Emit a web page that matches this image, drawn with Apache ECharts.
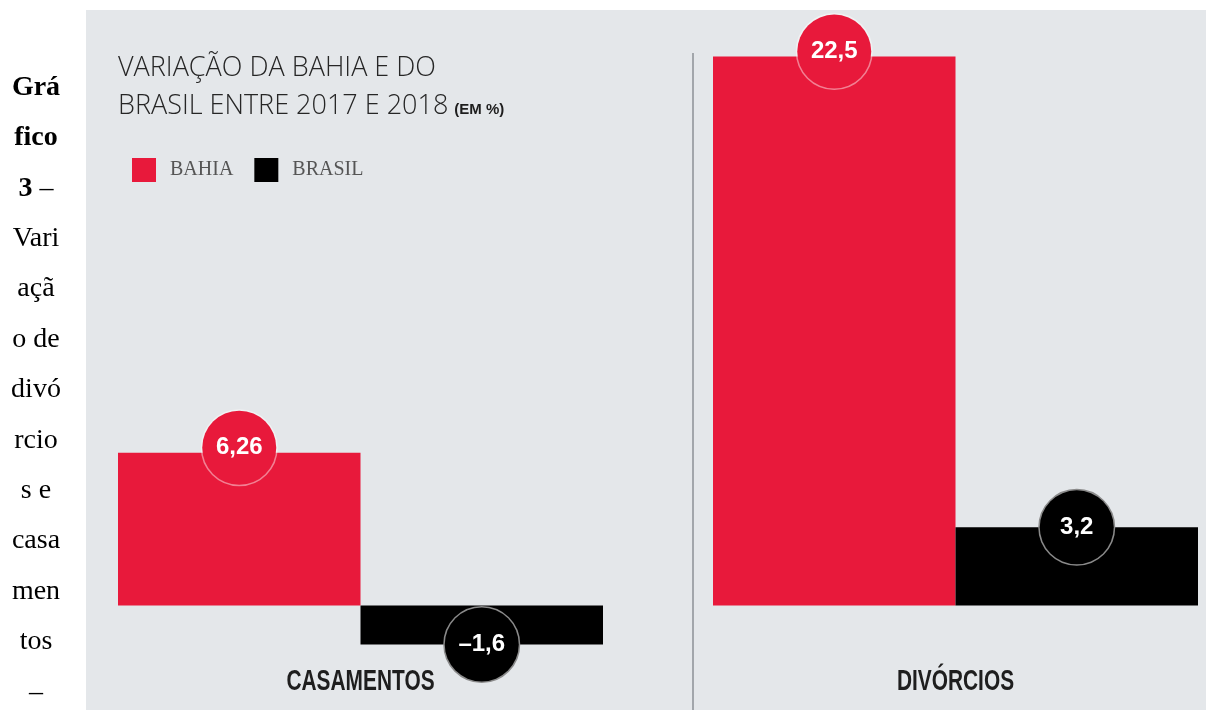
<!DOCTYPE html>
<html>
<head>
<meta charset="utf-8">
<script src="https://cdn.jsdelivr.net/npm/echarts@6/dist/echarts.min.js"></script>
<style>
  html, body { margin: 0; padding: 0; background: #ffffff; }
  #chart { width: 1206px; height: 710px; }
</style>
</head>
<body>
<div id="chart"></div>
<script>
// ---- data ----
const categories = ['CASAMENTOS', 'DIVÓRCIOS'];
const seriesNames = ['BAHIA', 'BRASIL'];
const bahia = [6.26, 22.5];
const brasil = [-1.6, 3.2];
const titleLines = ['VARIAÇÃO DA BAHIA E DO', 'BRASIL ENTRE 2017 E 2018'];
const titleUnit = '(EM %)';
const captionLines = ['{b|Grá}', '{b|fico}', '{b|3} –', 'Vari', 'açã', 'o de', 'divó', 'rcio', 's e', 'casa', 'men', 'tos', '–'];

// ---- styles ----
const RED = '#e8193b';
const BLACK = '#000000';
const PANEL = '#e4e7ea';
const SANS = '"Liberation Sans", Arial, sans-serif';
const SERIF = '"Liberation Serif", "Times New Roman", serif';

function fmt(v) { return String(v).replace('.', ',').replace('-', '–'); }

function measure(text, font) {
  const c = document.createElement('canvas').getContext('2d');
  c.font = font;
  return c.measureText(text).width;
}

const chart = echarts.init(document.getElementById('chart'), null, { renderer: 'canvas' });

const gridLefts = [118, 713];
const grids = gridLefts.map(l => ({ left: l, width: 485, top: 20, height: 683 }));
const xAxes = categories.map((c, i) => ({
  type: 'category', gridIndex: i, data: [c],
  axisLine: { show: false, onZero: false }, axisTick: { show: false }, axisLabel: { show: false }
}));
const yAxes = categories.map((c, i) => ({ type: 'value', gridIndex: i, min: -4, max: 24, show: false }));

function circleLabel(bg, border, dy) {
  return {
    show: true, formatter: p => fmt(p.value), align: 'center', verticalAlign: 'middle',
    offset: [0, dy], width: 74, height: 74, lineHeight: 74, borderRadius: 37,
    backgroundColor: bg, borderColor: border, borderWidth: 1.5,
    color: '#ffffff', fontFamily: SANS, fontWeight: 'bold', fontSize: 24
  };
}
function toData(vals) {
  return vals.map(v => ({ value: v, label: { position: v >= 0 ? ['50%', 0] : ['50%', '100%'] } }));
}

const series = [];
categories.forEach((c, i) => {
  series.push({
    name: seriesNames[0], type: 'bar', xAxisIndex: i, yAxisIndex: i,
    barGap: '0%', barCategoryGap: '0%',
    data: toData([bahia[i]]), itemStyle: { color: RED },
    label: circleLabel(RED, 'rgba(255,255,255,0.45)', -5)
  });
  series.push({
    name: seriesNames[1], type: 'bar', xAxisIndex: i, yAxisIndex: i,
    barGap: '0%', barCategoryGap: '0%',
    data: toData([brasil[i]]), itemStyle: { color: BLACK },
    label: circleLabel(BLACK, '#8a8a8a', 0)
  });
});

const titleFont = '300 27px "Open Sans"';
const line2W = measure(titleLines[1], titleFont);

function baseGraphics() {
  const g = [
    { type: 'rect', z: -10, shape: { x: 86, y: 10, width: 1120, height: 700 }, style: { fill: PANEL } },
    { type: 'line', z: -5, shape: { x1: 693, y1: 53, x2: 693, y2: 710 }, style: { stroke: '#a2a6ab', lineWidth: 2 } },
    { type: 'text', style: { text: titleLines[0], x: 118, y: 68, verticalAlign: 'middle', font: titleFont, fill: '#262626' } },
    { type: 'text', style: { text: titleLines[1], x: 118, y: 106, verticalAlign: 'middle', font: titleFont, fill: '#262626' } },
    { type: 'text', style: { text: titleUnit, x: 118 + line2W + 6, y: 110, verticalAlign: 'middle', font: 'bold 15px ' + SANS, fill: '#1e1e1e' } }
  ];
  captionLines.forEach((t, i) => {
    g.push({
      type: 'text',
      style: {
        text: t, x: 36, y: 97 + 50.4 * i - 9.5, align: 'center', verticalAlign: 'middle',
        fontFamily: SERIF, fontSize: 28, fill: '#000',
        rich: { b: { fontFamily: SERIF, fontSize: 28, fontWeight: 'bold', fill: '#000' } }
      }
    });
  });
  return g;
}

chart.setOption({
  animation: false,
  backgroundColor: '#ffffff',
  legend: {
    data: seriesNames, left: 127, top: 153, icon: 'rect', itemWidth: 24, itemHeight: 24, itemGap: 21,
    textStyle: { fontFamily: SERIF, fontSize: 20, color: '#555', padding: [0, 0, 0, 9] }
  },
  grid: grids,
  xAxis: xAxes,
  yAxis: yAxes,
  series: series,
  graphic: { elements: baseGraphics() }
});

// category names, placed at each category's position on its own x axis
const catGraphics = categories.map((c, i) => {
  const x = chart.convertToPixel({ xAxisIndex: i }, c);
  return {
    type: 'text', x: x, y: 682, scaleX: 0.72, scaleY: 1,
    style: { text: c, x: 0, y: 0, align: 'center', verticalAlign: 'middle', fontFamily: SANS, fontWeight: 'bold', fontSize: 29, fill: '#1e1e1e' }
  };
});
chart.setOption({ graphic: { elements: baseGraphics().concat(catGraphics) } });
</script>
</body>
</html>
